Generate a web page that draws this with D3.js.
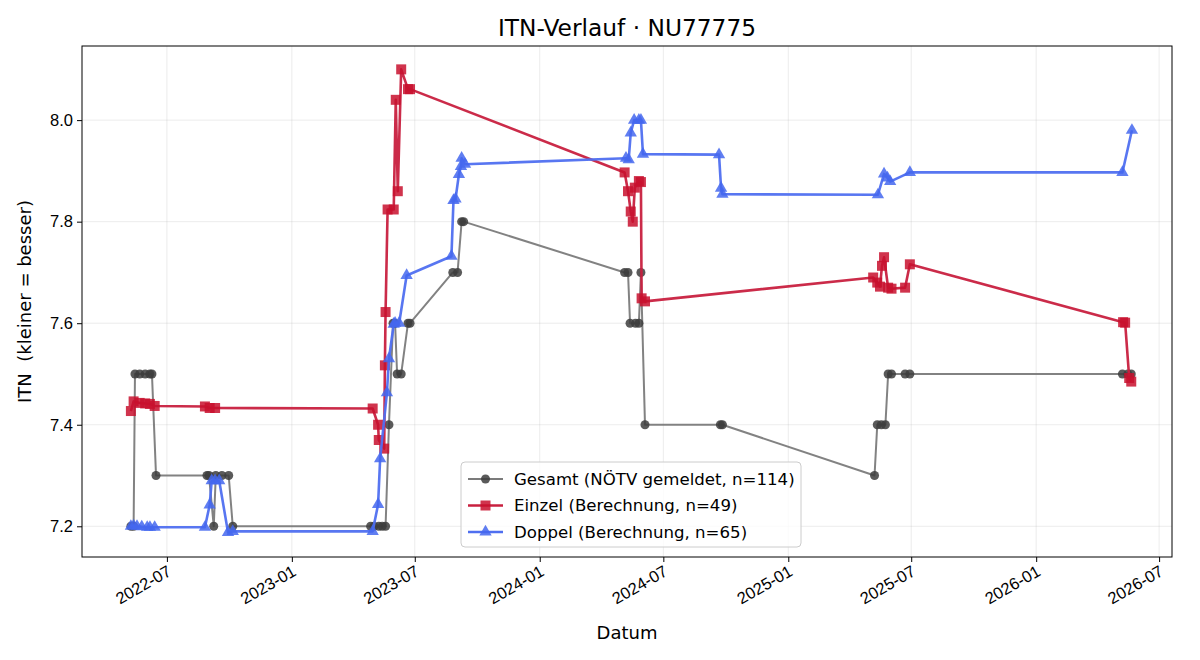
<!DOCTYPE html>
<html>
<head>
<meta charset="utf-8">
<script src="https://cdn.jsdelivr.net/npm/d3@7"></script>
<style>
  body { margin: 0; background: #fff; }
  svg { font-family: "DejaVu Sans", sans-serif; }
</style>
</head>
<body>
<svg id="chart" width="1200" height="660"></svg>
<script>
// ITN history
var gesamtDates = ["2022-05-09","2022-05-13","2022-05-15","2022-05-22","2022-05-30","2022-06-06","2022-06-09","2022-06-15",
  "2022-08-29","2022-09-01","2022-09-08","2022-09-11","2022-09-20","2022-09-30","2022-10-06",
  "2023-04-27","2023-05-02","2023-05-09","2023-05-14","2023-05-19","2023-05-24","2023-05-30","2023-06-02","2023-06-05","2023-06-11","2023-06-21","2023-06-24",
  "2023-08-26","2023-09-02","2023-09-08","2023-09-11",
  "2024-05-05","2024-05-10","2024-05-13","2024-05-21","2024-05-26","2024-05-29","2024-06-04",
  "2024-09-23","2024-09-26",
  "2025-05-08","2025-05-12","2025-05-18","2025-05-24","2025-05-28","2025-06-02","2025-06-22","2025-06-29",
  "2026-05-08","2026-05-16","2026-05-21"];
var gesamtValues = [7.2,7.2,7.5,7.5,7.5,7.5,7.5,7.3,
  7.3,7.3,7.2,7.3,7.3,7.3,7.2,
  7.2,7.2,7.2,7.2,7.2,7.4,7.6,7.6,7.5,7.5,7.6,7.6,
  7.7,7.7,7.8,7.8,
  7.7,7.7,7.6,7.6,7.6,7.7,7.4,
  7.4,7.4,
  7.3,7.4,7.4,7.4,7.5,7.5,7.5,7.5,
  7.5,7.5,7.5];

var einzelDates = ["2022-05-09","2022-05-13","2022-05-22","2022-05-30","2022-06-06","2022-06-13",
  "2022-08-26","2022-09-02","2022-09-10",
  "2023-04-30","2023-05-08","2023-05-09","2023-05-17","2023-05-18","2023-05-19","2023-05-22","2023-05-31","2023-06-03","2023-06-06","2023-06-11","2023-06-21","2023-06-24",
  "2024-05-05","2024-05-10","2024-05-14","2024-05-17","2024-05-20","2024-05-26","2024-05-29","2024-05-30","2024-06-04",
  "2025-05-06","2025-05-12","2025-05-16","2025-05-19","2025-05-22","2025-05-28","2025-06-02","2025-06-22","2025-06-29",
  "2026-05-09","2026-05-12","2026-05-18","2026-05-21"];
var einzelValues = [7.427,7.446,7.443,7.442,7.441,7.437,
  7.436,7.433,7.433,
  7.432,7.40,7.37,7.353,7.517,7.622,7.824,7.824,8.04,7.86,8.10,8.061,8.061,
  7.897,7.86,7.82,7.80,7.867,7.88,7.878,7.649,7.643,
  7.69,7.68,7.672,7.713,7.73,7.67,7.668,7.67,7.716,
  7.602,7.601,7.492,7.485];

var doppelDates = ["2022-05-09","2022-05-13","2022-05-18","2022-05-25","2022-06-02","2022-06-06","2022-06-13",
  "2022-08-26","2022-09-02","2022-09-05","2022-09-10","2022-09-16","2022-09-29","2022-10-06",
  "2023-04-30","2023-05-08","2023-05-11","2023-05-21","2023-05-24","2023-05-31","2023-06-02","2023-06-08","2023-06-19",
  "2023-08-24","2023-08-27","2023-08-30","2023-09-04","2023-09-07","2023-09-08","2023-09-13",
  "2024-05-07","2024-05-11","2024-05-14","2024-05-19","2024-05-26","2024-05-29","2024-06-01",
  "2024-09-21","2024-09-24","2024-09-26",
  "2025-05-13","2025-05-22","2025-05-27","2025-05-31","2025-06-29",
  "2026-05-08","2026-05-22"];
var doppelValues = [7.2,7.201,7.2,7.199,7.198,7.198,7.198,
  7.198,7.242,7.29,7.29,7.29,7.188,7.19,
  7.19,7.243,7.333,7.463,7.53,7.598,7.60,7.60,7.694,
  7.732,7.842,7.845,7.893,7.909,7.925,7.913,
  7.925,7.922,7.975,8.0,8.0,8.0,7.933,
  7.932,7.866,7.854,
  7.853,7.894,7.886,7.879,7.897,
  7.897,7.98];

var yTicks = [7.2, 7.4, 7.6, 7.8, 8.0];
var seriesLabels = ["Gesamt (NÖTV gemeldet, n=114)", "Einzel (Berechnung, n=49)", "Doppel (Berechnung, n=65)"];

var margin = {top: 46, right: 28, bottom: 103, left: 82},
    width = 1200 - margin.left - margin.right,
    height = 660 - margin.top - margin.bottom;

var parse = d3.utcParse("%Y-%m-%d");
function zipSeries(dates, values) {
  return dates.map(function(d, i) { return {date: parse(d), value: values[i]}; });
}

var series = [
  {data: zipSeries(gesamtDates, gesamtValues), line: "#7b7b7b", mark: "#3d3d3d", lw: 2, symbol: d3.symbolCircle, size: 64},
  {data: zipSeries(einzelDates, einzelValues), line: "#c8203f", mark: "#c8102e", lw: 2.6, symbol: d3.symbolSquare, size: 100},
  {data: zipSeries(doppelDates, doppelValues), line: "#4f6ff0", mark: "#4467ee", lw: 2.6, symbol: d3.symbolTriangle, size: 66}
];

var svg = d3.select("#chart");
var g = svg.append("g").attr("transform", "translate(" + margin.left + "," + margin.top + ")");

var xScale = d3.scaleUtc()
  .domain([parse("2022-02-26"), parse("2026-07-20")])
  .range([0, width]);
var yScale = d3.scaleLinear().domain([7.1395, 8.146]).range([height, 0]);

var xTicks = d3.utcMonth.every(6).range(parse("2022-07-01"), parse("2026-08-01"));

// grid
g.append("g").selectAll("line").data(xTicks).enter().append("line")
  .attr("x1", function(d) { return xScale(d); }).attr("x2", function(d) { return xScale(d); })
  .attr("y1", 0).attr("y2", height)
  .attr("stroke", "#b0b0b0").attr("stroke-opacity", 0.3).attr("stroke-width", 0.8);
g.append("g").selectAll("line").data(yTicks).enter().append("line")
  .attr("y1", function(d) { return yScale(d); }).attr("y2", function(d) { return yScale(d); })
  .attr("x1", 0).attr("x2", width)
  .attr("stroke", "#b0b0b0").attr("stroke-opacity", 0.3).attr("stroke-width", 0.8);

// series
var line = d3.line().x(function(d) { return xScale(d.date); }).y(function(d) { return yScale(d.value); });
series.forEach(function(s) {
  g.append("path").datum(s.data)
    .attr("fill", "none").attr("stroke", s.line).attr("stroke-width", s.lw)
    .attr("stroke-linejoin", "round").attr("stroke-opacity", 0.95)
    .attr("d", line);
  g.append("g").selectAll("path").data(s.data).enter().append("path")
    .attr("d", d3.symbol().type(s.symbol).size(s.size))
    .attr("transform", function(d) { return "translate(" + xScale(d.date) + "," + yScale(d.value) + ")"; })
    .attr("fill", s.mark).attr("fill-opacity", 0.85);
});

// frame
g.append("rect").attr("width", width).attr("height", height)
  .attr("fill", "none").attr("stroke", "#000").attr("stroke-width", 1);

// x axis
var xAxis = g.append("g").attr("transform", "translate(0," + height + ")")
  .call(d3.axisBottom(xScale).tickValues(xTicks).tickSize(5).tickFormat(d3.utcFormat("%Y-%m")));
xAxis.select(".domain").remove();
xAxis.selectAll("text")
  .attr("font-size", 16.5).attr("fill", "#000")
  .attr("text-anchor", "end")
  .attr("dy", "0.6em").attr("dx", "0").attr("y", 9)
  .attr("transform", "rotate(-30, 0, 9)");

// y axis
var yAxis = g.append("g")
  .call(d3.axisLeft(yScale).tickValues(yTicks).tickSize(5).tickFormat(d3.format(".1f")));
yAxis.select(".domain").remove();
yAxis.selectAll("text").attr("font-size", 16.5).attr("fill", "#000").attr("x", -9);

// labels
svg.append("text").attr("x", margin.left + width / 2).attr("y", 36)
  .attr("text-anchor", "middle").attr("font-size", 23.3).text("ITN-Verlauf · NU77775");
svg.append("text").attr("x", margin.left + width / 2).attr("y", 639)
  .attr("text-anchor", "middle").attr("font-size", 18).text("Datum");
svg.append("text").attr("transform", "translate(31," + (margin.top + height / 2) + ") rotate(-90)")
  .attr("text-anchor", "middle").attr("font-size", 18).style("white-space", "pre")
  .text("ITN  (kleiner = besser)");

// legend
var legend = svg.append("g").attr("transform", "translate(461,462)");
legend.append("rect").attr("width", 340).attr("height", 85).attr("rx", 4)
  .attr("fill", "#fff").attr("fill-opacity", 0.8).attr("stroke", "#cccccc");
series.forEach(function(s, i) {
  var yy = 17 + i * 26.5;
  legend.append("line").attr("x1", 7).attr("x2", 42).attr("y1", yy).attr("y2", yy)
    .attr("stroke", s.line).attr("stroke-width", s.lw);
  legend.append("path").attr("d", d3.symbol().type(s.symbol).size(s.size))
    .attr("transform", "translate(24.5," + yy + ")").attr("fill", s.mark).attr("fill-opacity", 0.85);
  legend.append("text").attr("x", 53).attr("y", yy).attr("dy", "0.35em")
    .attr("font-size", 16.6).text(seriesLabels[i]);
});
</script>
</body>
</html>
